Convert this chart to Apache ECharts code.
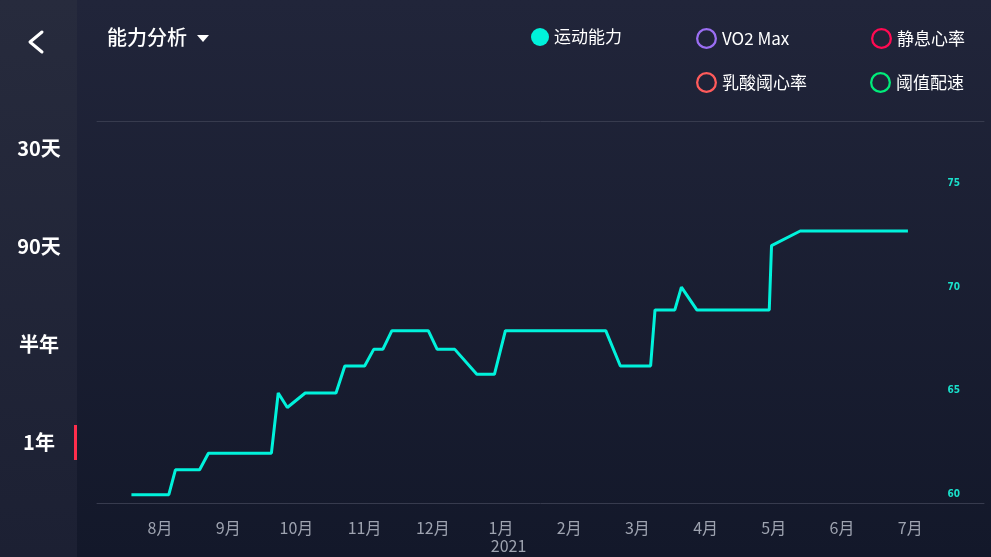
<!DOCTYPE html>
<html>
<head>
<meta charset="utf-8">
<script src="https://cdn.jsdelivr.net/npm/echarts@6/dist/echarts.min.js"></script>
<style>
  html, body { margin: 0; padding: 0; background: #1b1f31; }
  #chart { width: 991px; height: 557px; }
</style>
</head>
<body>
<div id="chart"></div>
<script>
// 运动能力 readings (date, value)
const dates = [
  '2020-07-19', '2020-08-05', '2020-08-08', '2020-08-19', '2020-08-23',
  '2020-09-20', '2020-09-23', '2020-09-27', '2020-10-05', '2020-10-19',
  '2020-10-23', '2020-11-01', '2020-11-05', '2020-11-09', '2020-11-13',
  '2020-11-29', '2020-12-03', '2020-12-11', '2020-12-21', '2020-12-29',
  '2021-01-03', '2021-02-16', '2021-02-22', '2021-03-07', '2021-03-09',
  '2021-03-18', '2021-03-21', '2021-03-28', '2021-04-29', '2021-04-30',
  '2021-05-13', '2021-06-30'
];
const fitness = [
  60.0, 60.0, 61.2, 61.2, 62.0,
  62.0, 64.9, 64.2, 64.9, 64.9,
  66.2, 66.2, 67.0, 67.0, 67.9,
  67.9, 67.0, 67.0, 65.8, 65.8,
  67.9, 67.9, 66.2, 66.2, 68.9,
  68.9, 70.0, 68.9, 68.9, 72.0,
  72.7, 72.7
];
const monthTicks = [0, 1, 2, 3, 4, 5, 6, 7, 8, 9, 10, 11]; // months from 2020-08
const yTicks = [60, 65, 70, 75];
const legendNames = ['运动能力', 'VO2 Max', '静息心率', '乳酸阈心率', '阈值配速'];
const legendColors = ['#00f2db', '#9b6ef3', '#ff0a52', '#ff5b5b', '#00ec7a'];
const ranges = ['30天', '90天', '半年', '1年'];

// every month gets the same width on this axis
function monthPos(s) {
  const [y, m, d] = s.split('-').map(Number);
  const days = new Date(y, m, 0).getDate();
  return (y - 2020) * 12 + (m - 8) + (d - 1) / days;
}

const ring = 'path://M12,0A12,12,0,1,1,12,24A12,12,0,1,1,12,0ZM12,2.6A9.4,9.4,0,1,0,12,21.4A9.4,9.4,0,1,0,12,2.6Z';
const legendPos = [[526, 23], [691, 23], [866, 23], [691, 67], [865, 67]];

const chart = echarts.init(document.getElementById('chart'));

const option = {
  backgroundColor: new echarts.graphic.LinearGradient(0, 0, 0, 1, [
    { offset: 0, color: '#21253a' },
    { offset: 1, color: '#13182a' }
  ]),
  animation: false,
  textStyle: { fontFamily: 'Noto Sans CJK SC' },
  grid: { left: 97, right: 7, top: 121, bottom: 54 },
  legend: legendNames.map((name, i) => ({
    left: legendPos[i][0],
    top: legendPos[i][1],
    data: [{
      name: name,
      icon: i === 0 ? 'circle' : ring,
      itemStyle: { color: legendColors[i] }
    }],
    itemWidth: i === 0 ? 18 : 21,
    itemHeight: i === 0 ? 18 : 21,
    itemGap: 0,
    selectedMode: false,
    textStyle: { color: '#ffffff', fontSize: 17, padding: [0, 0, 0, 0] }
  })),
  xAxis: [
    {
      type: 'value',
      min: -0.924,
      max: 12.082,
      splitLine: { show: false },
      axisTick: { show: false },
      axisLine: { lineStyle: { color: '#373b4e', width: 1 } },
      axisLabel: {
        customValues: monthTicks,
        color: '#9ea3b0',
        fontSize: 16,
        margin: 16,
        lineHeight: 18,
        formatter: v => {
          const m = ((v + 7) % 12) + 1;
          return m === 1 ? '{a|1月}\n{b|2021}' : m + '月';
        },
        rich: {
          a: { color: '#9ea3b0', fontSize: 16, lineHeight: 18 },
          b: { color: '#9ea3b0', fontSize: 16, lineHeight: 18, padding: [0, 0, 0, 15] }
        }
      }
    },
    {
      type: 'value',
      position: 'top',
      min: -0.924,
      max: 12.082,
      splitLine: { show: false },
      axisTick: { show: false },
      axisLabel: { show: false },
      axisLine: { show: true, lineStyle: { color: '#373b4e', width: 1 } }
    }
  ],
  yAxis: {
    type: 'value',
    position: 'right',
    min: 59.6,
    max: 78,
    splitLine: { show: false },
    axisTick: { show: false },
    axisLine: { show: false },
    axisLabel: {
      customValues: yTicks,
      inside: true,
      margin: 24,
      color: '#1ae0cb',
      fontSize: 10,
      fontWeight: 'bold',
      fontFamily: 'DejaVu Sans Condensed'
    }
  },
  series: [
    {
      name: legendNames[0],
      type: 'line',
      color: legendColors[0],
      data: dates.map((d, i) => [monthPos(d), fitness[i]]),
      showSymbol: false,
      lineStyle: { width: 3, color: legendColors[0] }
    },
    ...legendNames.slice(1).map((name, i) => ({
      name: name,
      type: 'line',
      color: legendColors[i + 1],
      data: []
    }))
  ],
  graphic: [
    {
      type: 'rect',
      left: 0, top: 0, z: -1,
      shape: { width: 77, height: 557 },
      style: {
        fill: new echarts.graphic.LinearGradient(0, 0, 0, 1, [
          { offset: 0, color: '#272b3d' },
          { offset: 1, color: '#1c2033' }
        ])
      },
      silent: true
    },
    {
      type: 'polyline',
      shape: { points: [[42, 32], [30, 42], [42, 52]] },
      style: { stroke: '#ffffff', lineWidth: 3, fill: null, lineCap: 'round', lineJoin: 'round' }
    },
    {
      type: 'text',
      left: 107, top: 27,
      style: { text: '能力分析', fill: '#ffffff', fontSize: 20, fontWeight: 500, fontFamily: 'Noto Sans CJK SC' }
    },
    {
      type: 'polygon',
      shape: { points: [[197, 35], [209, 35], [203, 42]] },
      style: { fill: '#ffffff' }
    },
    ...ranges.map((r, i) => ({
      type: 'text',
      x: 39, y: 148 + i * 98,
      style: {
        text: r, fill: '#ffffff', fontSize: 20, fontWeight: 'bold',
        fontFamily: 'Noto Sans CJK SC', align: 'center', verticalAlign: 'middle'
      }
    })),
    {
      type: 'rect',
      shape: { x: 74, y: 425, width: 3, height: 35 },
      style: { fill: '#ff2e4c' }
    }
  ]
};

chart.setOption(option);
</script>
</body>
</html>
